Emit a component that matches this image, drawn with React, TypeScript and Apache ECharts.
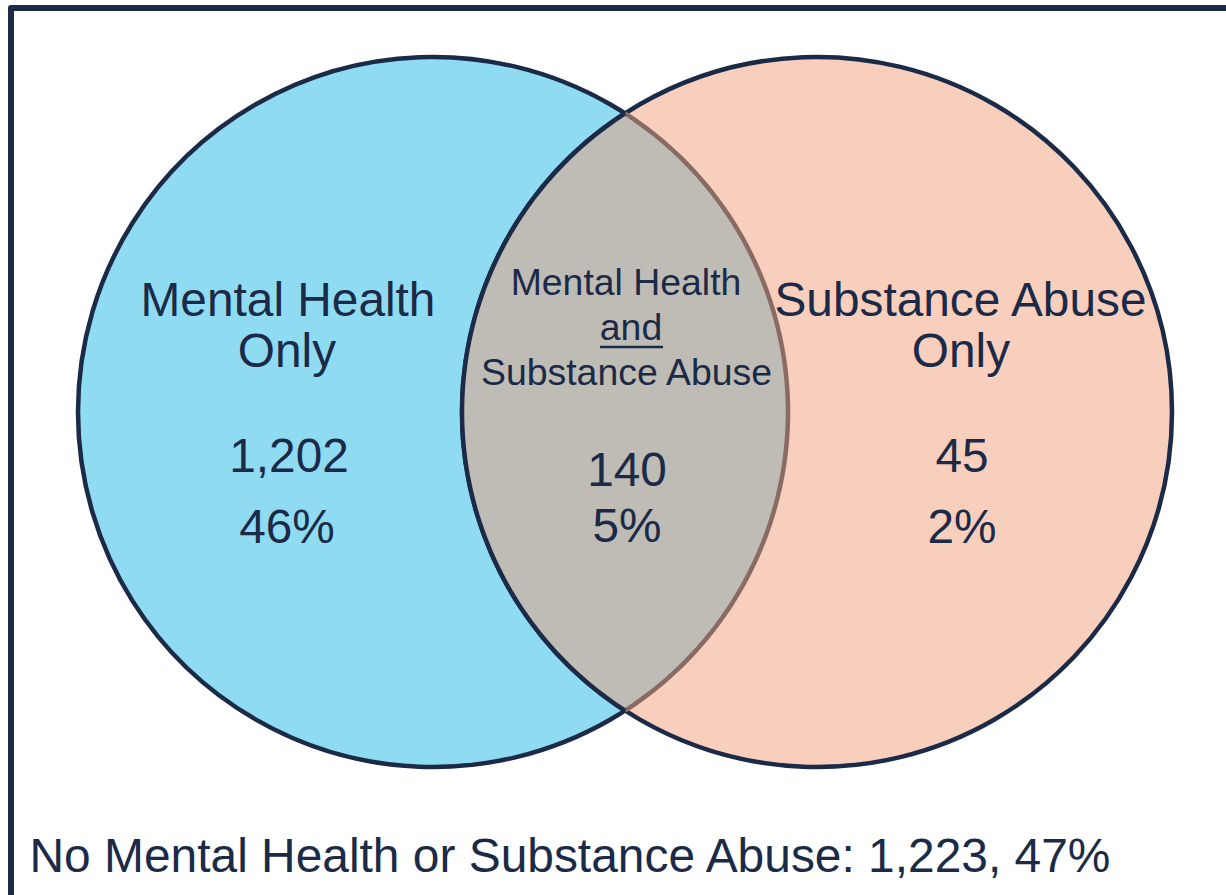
import React, { useEffect, useRef } from "react";
import * as echarts from "echarts";

// ---- data ----
const regionTitles: string[][] = [
  ["Mental Health", "Only"],
  ["Mental Health", "and", "Substance Abuse"],
  ["Substance Abuse", "Only"],
];
const regionCounts = [1202, 140, 45];
const regionPercents = [46, 5, 2];
const noneLabel = "No Mental Health or Substance Abuse";
const noneCount = 1223;
const nonePercent = 47;

// ---- layout (axis units == pixels) ----
const circleData = [
  [433, 412, 355],
  [817, 412, 355],
];
const NAVY = "#1b2a47";
const FILLS = ["#8fdcf2", "#f8cebd"];
const LENS = "#bfbcb5";
const BROWN = "#8a6b63";
const FONT = '"Liberation Sans", Arial, Helvetica, sans-serif';
const STROKE_W = 4.5;

const fmt = (n: number) => n.toLocaleString("en-US");

export default function App() {
  const ref = useRef<HTMLDivElement>(null);
  useEffect(() => {
    if (!ref.current) return;
    const chart = echarts.init(ref.current, null, { renderer: "svg" });

    const big = 47.8;
    const mid = 37.4;
    const txt = (text: string, x: number, y: number, size: number, align = "center") => ({
      type: "text",
      x,
      y,
      silent: true,
      style: {
        text,
        font: `${size}px ${FONT}`,
        fill: NAVY,
        align,
        verticalAlign: "middle",
      },
      z: 100,
    });

    const graphics: any[] = [
      {
        type: "polyline",
        shape: { points: [[11, 910], [11, 8], [1240, 8]] },
        style: { stroke: NAVY, lineWidth: 6, fill: "none", lineJoin: "round" },
        z: 100,
      },
      // left region
      txt(regionTitles[0][0], 288, 299.5, big),
      txt(regionTitles[0][1], 287, 350.5, big),
      txt(fmt(regionCounts[0]), 289, 455.5, big),
      txt(`${regionPercents[0]}%`, 287, 526.5, big),
      // center region
      txt(regionTitles[1][0], 626, 282, mid),
      txt(regionTitles[1][1], 631, 327, mid),
      {
        type: "line",
        shape: { x1: 600, y1: 347, x2: 663, y2: 347 },
        style: { stroke: NAVY, lineWidth: 2.5 },
        z: 100,
      },
      txt(regionTitles[1][2], 626.5, 372, mid),
      txt(fmt(regionCounts[1]), 627, 469.5, big),
      txt(`${regionPercents[1]}%`, 627, 525.5, big),
      // right region
      txt(regionTitles[2][0], 960.5, 299.5, big),
      txt(regionTitles[2][1], 961, 350.5, big),
      txt(fmt(regionCounts[2]), 962, 455.5, big),
      txt(`${regionPercents[2]}%`, 962, 526.5, big),
      // outside
      txt(`${noneLabel}: ${fmt(noneCount)}, ${nonePercent}%`, 29.5, 855.4, 47.9, "left"),
    ];

    chart.setOption({
      animation: false,
      backgroundColor: "#ffffff",
      grid: { left: 0, right: 0, top: 0, bottom: 0 },
      xAxis: { type: "value", min: 0, max: 1226, show: false },
      yAxis: { type: "value", min: 0, max: 895, inverse: true, show: false },
      series: [
        {
          type: "custom",
          coordinateSystem: "cartesian2d",
          encode: { x: 0, y: 1 },
          data: circleData,
          clip: false,
          silent: true,
          renderItem: (params: any, api: any) => {
            const c = api.coord([api.value(0), api.value(1)]);
            const r = api.size([api.value(2), 0])[0];
            return {
              type: "circle",
              shape: { cx: c[0], cy: c[1], r },
              style: { fill: FILLS[params.dataIndex], stroke: NAVY, lineWidth: STROKE_W },
            };
          },
          z: 1,
        },
        {
          type: "custom",
          coordinateSystem: "cartesian2d",
          encode: { x: [0, 2], y: [1, 3] },
          data: [[circleData[0][0], circleData[0][1], circleData[1][0], circleData[1][1], circleData[0][2]]],
          clip: false,
          silent: true,
          renderItem: (_params: any, api: any) => {
            const a = api.coord([api.value(0), api.value(1)]);
            const b = api.coord([api.value(2), api.value(3)]);
            const r = api.size([api.value(4), 0])[0];
            const h = (b[0] - a[0]) / 2;
            const k = Math.sqrt(r * r - h * h);
            const t = Math.atan2(k, h);
            const N = 120;
            const rightArc: number[][] = [];
            const leftArc: number[][] = [];
            for (let i = 0; i <= N; i++) {
              const ang = -t + (2 * t * i) / N;
              rightArc.push([a[0] + r * Math.cos(ang), a[1] + r * Math.sin(ang)]);
            }
            for (let i = 0; i <= N; i++) {
              const ang = Math.PI - t + (2 * t * i) / N;
              leftArc.push([b[0] + r * Math.cos(ang), b[1] + r * Math.sin(ang)]);
            }
            return {
              type: "group",
              children: [
                {
                  type: "polygon",
                  shape: { points: rightArc.concat(leftArc) },
                  style: { fill: LENS, stroke: "none" },
                },
                {
                  type: "polyline",
                  shape: { points: rightArc },
                  style: { stroke: BROWN, lineWidth: STROKE_W, fill: "none" },
                },
                {
                  type: "polyline",
                  shape: { points: leftArc },
                  style: { stroke: NAVY, lineWidth: STROKE_W, fill: "none" },
                },
              ],
            };
          },
          z: 2,
        },
      ],
      graphic: graphics,
    });

    return () => chart.dispose();
  }, []);

  return (
    <div
      ref={ref}
      style={{ position: "absolute", left: 0, top: 0, width: 1226, height: 895 }}
    />
  );
}
